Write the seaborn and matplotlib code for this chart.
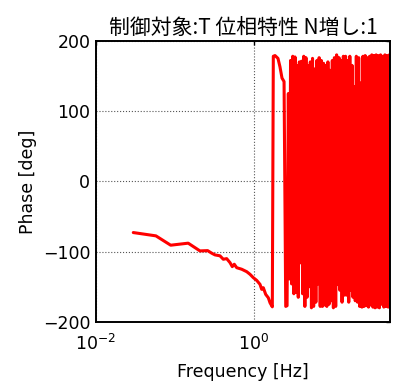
import numpy as np
import pandas as pd
import matplotlib
matplotlib.use("Agg")
import matplotlib.pyplot as plt
import seaborn as sns

# ---- data ----
# smooth low-frequency part (Hz, deg)
freq_low = [0.0297, 0.0574, 0.0883, 0.147, 0.207, 0.259, 0.292, 0.321, 0.371,
            0.409, 0.451, 0.497, 0.531, 0.563, 0.604, 0.699, 0.809, 0.890,
            0.980, 1.081, 1.191, 1.251, 1.312, 1.406, 1.517, 1.595, 1.705]
phase_low = [-72.9, -77.6, -90.9, -88.0, -99.0, -98.6, -102.3, -104.7, -106.0,
             -110.9, -110.0, -115.7, -121.4, -118.0, -122.9, -125.1, -128.6, -132.3,
             -137.1, -140.9, -146.6, -153.7, -151.4, -160.9, -165.7, -172.9, -178.6]

# first wrap and short descent
freq_wrap = [1.755, 1.844, 2.01, 2.13, 2.26, 2.40, 2.52, 2.62]
phase_wrap = [178.0, 179.0, 175.0, 163.0, 147.0, 142.0, -178.0, -177.0]

# dense wrapped region
freq_dense = [2.72, 2.81, 2.90, 2.99, 3.09, 3.19, 3.30, 3.40, 3.51, 3.63,
              3.75, 3.87, 3.99, 4.12, 4.26, 4.40, 4.54, 4.69, 4.84, 5.00,
              5.16, 5.33, 5.50, 5.68, 5.87, 6.06, 6.25, 6.46, 6.67, 6.88,
              7.11, 7.34, 7.58, 7.82, 8.08, 8.34, 8.61, 8.89, 9.18, 9.48,
              9.79, 10.1, 10.4, 10.8, 11.1, 11.5, 11.9, 12.2, 12.6, 13.0,
              13.5, 13.9, 14.4, 14.8, 15.3, 15.8, 16.3, 16.8, 17.4, 17.9,
              18.5, 19.1, 19.7, 20.4, 21.1, 21.7, 22.4, 23.2, 23.9, 24.7,
              25.5, 26.3, 27.2, 28.1, 29.0, 29.9, 30.9, 31.9, 32.9, 34.0,
              35.1, 36.2, 37.4, 38.6, 39.9, 41.2, 42.5, 43.9, 45.3, 46.8,
              48.3, 49.9, 51.5]
phase_dense = [125, -139, 172, -146, 178, -160, 177, -158, 165, -165,
               170, -116, 171, -160, 178, -178, 176, -165, 165, -150,
               170, -180, 175, -178, 160, -172, 172, -146, 176, -178,
               172, -178, 168, -176, 165, -178, 170, -175, 158, -170,
               172, -180, 176, -178, 180, -147, 176, -155, 172, -172,
               178, -162, 178, -162, 172, -172, 178, -155, 165, -165,
               135, -170, 178, -172, 176, -178, 140, -179, 178, -178,
               179, -177, 176, -179, 178, -176, 180, -179, 179, -180,
               180, -179, 179, -180, 180, -175, 178, -179, 180, -178,
               179, -179, 180]

title_text = "制御対象:T 位相特性 N増し:1"
xlabel_text = "Frequency [Hz]"
ylabel_text = "Phase [deg]"
xticks = [0.01, 1]
yticks = [-200, -100, 0, 100, 200]

df = pd.DataFrame({
    "freq": freq_low + freq_wrap + freq_dense,
    "phase": phase_low + phase_wrap + phase_dense,
})

sns.set_style("white")
plt.rcParams["font.family"] = ["DejaVu Sans", "Noto Sans CJK JP"]
plt.rcParams["text.color"] = "black"
plt.rcParams["axes.labelcolor"] = "black"

fig = plt.figure(figsize=(4.03, 3.85), dpi=100)
ax = fig.add_axes([0.238, 0.164, 0.730, 0.730])

sns.lineplot(data=df, x="freq", y="phase", sort=False, estimator=None,
             color="#ff0000", linewidth=2.2, ax=ax)

ax.set_xscale("log")
ax.set_xlim(0.01, 52.7)
ax.set_ylim(-200, 200)
ax.set_xticks(xticks)
ax.set_yticks(yticks)
ax.xaxis.set_minor_locator(matplotlib.ticker.NullLocator())

ax.grid(True, which="major", linestyle=":", color="#555555", linewidth=0.8)
ax.set_axisbelow(True)
ax.tick_params(direction="in", length=3, width=1, top=True, right=True,
               labelsize=12.5, colors="black")
ax.tick_params(axis="x", pad=9)
ax.tick_params(axis="y", pad=4)
for s in ax.spines.values():
    s.set_visible(True)
    s.set_color("black")
    s.set_linewidth(1.4)

ax.set_title(title_text, fontsize=15, color="black",
             family=["Noto Sans CJK JP", "DejaVu Sans"], pad=5)
ax.set_xlabel(xlabel_text, fontsize=12.5, labelpad=6, color="black")
ax.set_ylabel(ylabel_text, fontsize=12.5, labelpad=4, color="black")

fig.savefig("out.png", dpi=100)
